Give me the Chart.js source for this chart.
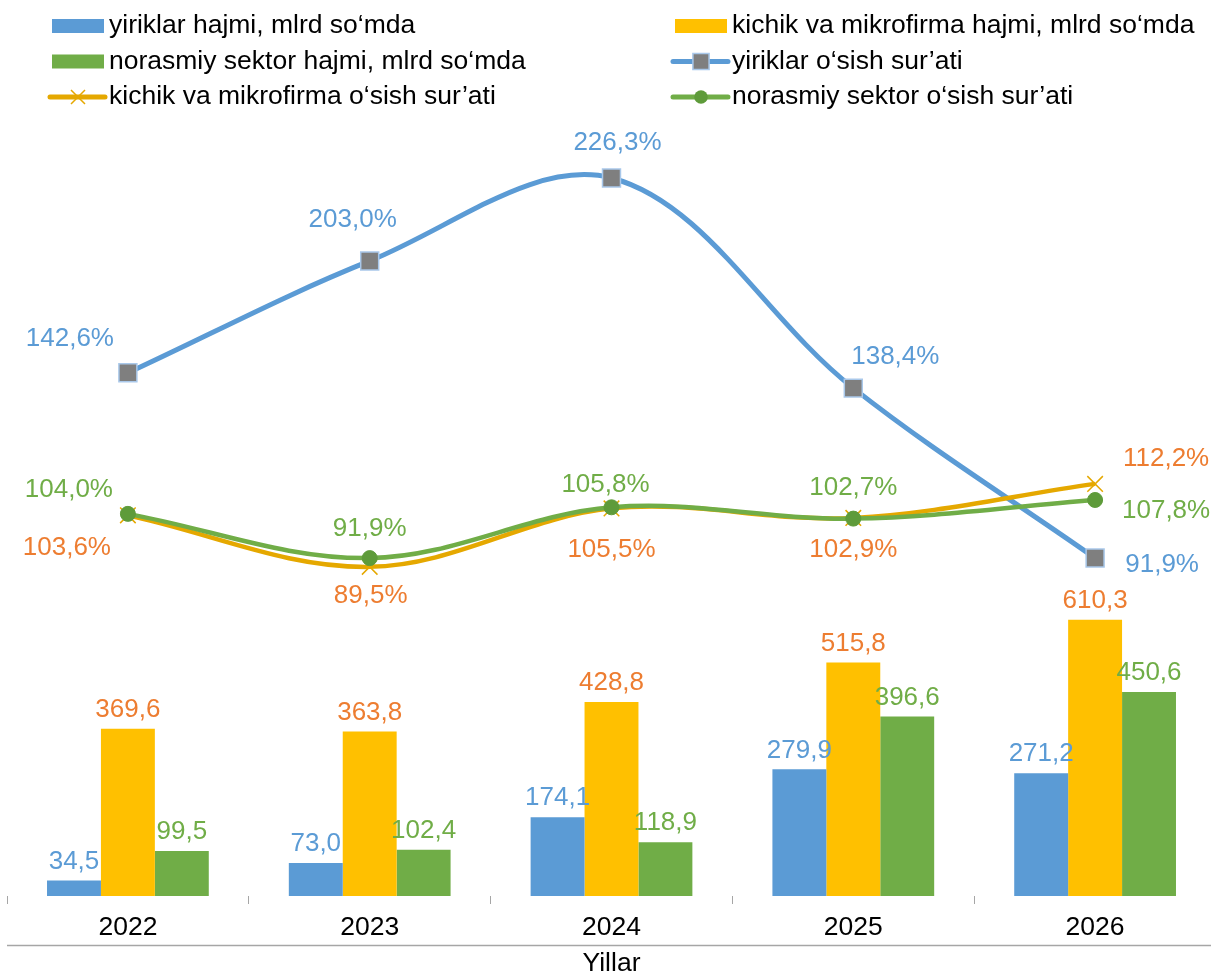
<!DOCTYPE html>
<html><head><meta charset="utf-8">
<script src="https://cdn.jsdelivr.net/npm/chart.js@4.4.1/dist/chart.umd.min.js"></script>
<style>html,body{margin:0;padding:0;background:#fff;overflow:hidden;width:1211px;height:972px}canvas{display:block}</style>
</head><body><canvas id="c" width="1218" height="976"></canvas>
<script>
// ---- data ----
const years = ['2022', '2023', '2024', '2025', '2026'];
const yiriklarVolume = [34.5, 73.0, 174.1, 279.9, 271.2];
const kichikVolume = [369.6, 363.8, 428.8, 515.8, 610.3];
const norasmiyVolume = [99.5, 102.4, 118.9, 396.6, 450.6];
// plotted positions of the "yiriklar" growth line
const yiriklarGrowthPlotted = [142.6, 173.2, 195.9, 138.4, 91.9];
// values written in that line's data labels
const yiriklarGrowthLabels = [142.6, 203.0, 226.3, 138.4, 91.9];
const kichikGrowth = [103.6, 89.5, 105.5, 102.9, 112.2];
const norasmiyGrowth = [104.0, 91.9, 105.8, 102.7, 107.8];
const seriesNames = [
  'yiriklar hajmi, mlrd so‘mda',
  'kichik va mikrofirma hajmi, mlrd so‘mda',
  'norasmiy sektor hajmi, mlrd so‘mda',
  'yiriklar o‘sish sur’ati',
  'kichik va mikrofirma o‘sish sur’ati',
  'norasmiy sektor o‘sish sur’ati'
];
const axisTitle = 'Yillar';

// ---- styles / placement ----
const FONT = '"Liberation Sans", Arial, sans-serif';
const C_BLUE = '#5b9bd5', C_YEL = '#ffc000', C_GREEN = '#70ad47', C_ORANGE = '#ed7d31', C_GOLD = '#e5a800';
const labelOffsets = [
  null, null, null,
  [[-58, -34], [-17, -41], [6, -35], [42, -31], [67, 7]],
  [[-61, 32], [1, 29], [0, 41], [0, 32], [71, -25]],
  [[-59, -24], [0, -29], [-6, -22], [0, -31], [71, 11]]
];
const labelColors = [C_BLUE, C_ORANGE, C_GREEN, C_BLUE, C_ORANGE, C_GREEN];
const fmt = v => v.toFixed(1).replace('.', ',');

const labelPlugin = {
  id: 'dataLabels',
  afterDatasetsDraw(chart) {
    const ctx = chart.ctx;
    ctx.save();
    ctx.font = '26px ' + FONT;
    ctx.textAlign = 'center';
    ctx.textBaseline = 'middle';
    chart.data.datasets.forEach((ds, di) => {
      const meta = chart.getDatasetMeta(di);
      ctx.fillStyle = labelColors[di];
      meta.data.forEach((el, i) => {
        if (ds.type === 'bar') {
          ctx.fillText(fmt(ds.data[i]), el.x, el.y - 19);
        } else {
          const txtVals = ds.labelValues || ds.data;
          const off = labelOffsets[di][i];
          ctx.fillText(fmt(txtVals[i]) + '%', el.x + off[0], el.y + off[1]);
        }
      });
    });
    ctx.restore();
  }
};

const legendPlugin = {
  id: 'gridLegend',
  afterDraw(chart) {
    const ctx = chart.ctx;
    const colX = [52, 675], rowY = [26, 61.5, 97];
    ctx.save();
    chart.data.datasets.forEach((ds, i) => {
      const x0 = colX[i % 2], y = rowY[Math.floor(i / 2)];
      if (ds.type === 'bar') {
        ctx.fillStyle = ds.backgroundColor;
        ctx.fillRect(x0, y - 7, 52, 14);
      } else {
        ctx.strokeStyle = ds.borderColor;
        ctx.lineWidth = 5;
        ctx.lineCap = 'round';
        ctx.beginPath(); ctx.moveTo(x0 - 2, y); ctx.lineTo(x0 + 53, y); ctx.stroke();
        ctx.lineCap = 'butt';
        ctx.fillStyle = ds.pointBackgroundColor;
        ctx.strokeStyle = ds.pointBorderColor;
        ctx.lineWidth = ds.pointBorderWidth;
        ctx.beginPath();
        const r = ds.pointRadius * 0.9;
        const cx = x0 + 26;
        if (ds.pointStyle === 'rect') {
          const s = r * Math.SQRT1_2;
          ctx.rect(cx - s, y - s, 2 * s, 2 * s); ctx.fill(); ctx.stroke();
        } else if (ds.pointStyle === 'circle') {
          ctx.arc(cx, y, r, 0, Math.PI * 2); ctx.fill();
        } else {
          const s = r * Math.SQRT1_2;
          ctx.moveTo(cx - s, y - s); ctx.lineTo(cx + s, y + s);
          ctx.moveTo(cx - s, y + s); ctx.lineTo(cx + s, y - s);
          ctx.stroke();
        }
      }
      ctx.fillStyle = '#000';
      ctx.font = '26.5px ' + FONT;
      ctx.textBaseline = 'middle';
      ctx.textAlign = 'left';
      ctx.fillText(ds.label, x0 + 57, y);
    });
    // separator line above the axis title
    const xs = chart.scales.x;
    const ly = Math.round(xs.top + 49) + 0.5;
    ctx.strokeStyle = '#a6a6a6';
    ctx.lineWidth = 1.3;
    ctx.beginPath(); ctx.moveTo(chart.chartArea.left, ly); ctx.lineTo(chart.chartArea.right, ly); ctx.stroke();
    ctx.restore();
  }
};

new Chart(document.getElementById('c'), {
  data: {
    labels: years,
    datasets: [
      { type: 'bar', label: seriesNames[0], data: yiriklarVolume, backgroundColor: C_BLUE, yAxisID: 'y', order: 10 },
      { type: 'bar', label: seriesNames[1], data: kichikVolume, backgroundColor: C_YEL, yAxisID: 'y', order: 10 },
      { type: 'bar', label: seriesNames[2], data: norasmiyVolume, backgroundColor: C_GREEN, yAxisID: 'y', order: 10 },
      { type: 'line', label: seriesNames[3], data: yiriklarGrowthPlotted, labelValues: yiriklarGrowthLabels,
        borderColor: C_BLUE, borderWidth: 5, tension: 0.35, yAxisID: 'y1', order: 3,
        pointStyle: 'rect', pointRadius: 12.7, pointBackgroundColor: '#7f7f7f', pointBorderColor: '#a9c8ea', pointBorderWidth: 1.5 },
      { type: 'line', label: seriesNames[4], data: kichikGrowth,
        borderColor: C_GOLD, borderWidth: 4.5, tension: 0.35, yAxisID: 'y1', order: 2,
        pointStyle: 'crossRot', pointRadius: 11, pointBackgroundColor: C_GOLD, pointBorderColor: C_GOLD, pointBorderWidth: 1.5 },
      { type: 'line', label: seriesNames[5], data: norasmiyGrowth,
        borderColor: C_GREEN, borderWidth: 4.5, tension: 0.35, yAxisID: 'y1', order: 1,
        pointStyle: 'circle', pointRadius: 7.5, pointBackgroundColor: '#5e9b3a', pointBorderColor: '#5e9b3a', pointBorderWidth: 1 }
    ]
  },
  options: {
    responsive: false,
    animation: false,
    layout: { autoPadding: false, padding: { top: 120, left: 7, right: 2, bottom: 0 } },
    plugins: { legend: { display: false }, tooltip: { enabled: false } },
    datasets: { bar: { barPercentage: 1, categoryPercentage: 0.669 } },
    scales: {
      x: {
        type: 'category',
        offset: true,
        border: { display: false },
        grid: { offset: true, drawOnChartArea: false, drawTicks: true, tickLength: 8, color: '#a6a6a6', lineWidth: 1 },
        ticks: { font: { family: FONT, size: 26.5 }, color: '#000', padding: 8, maxRotation: 0 },
        title: { display: true, text: axisTitle, font: { family: FONT, size: 26.5, lineHeight: 0.9132 }, color: '#000', padding: { top: 0, bottom: 0 } }
      },
      y: { display: false, min: 0, max: 1714.9 },
      y1: { display: false, position: 'right', min: -0.55, max: 211.76, grid: { drawOnChartArea: false } }
    }
  },
  plugins: [labelPlugin, legendPlugin]
});
</script>
</body></html>
